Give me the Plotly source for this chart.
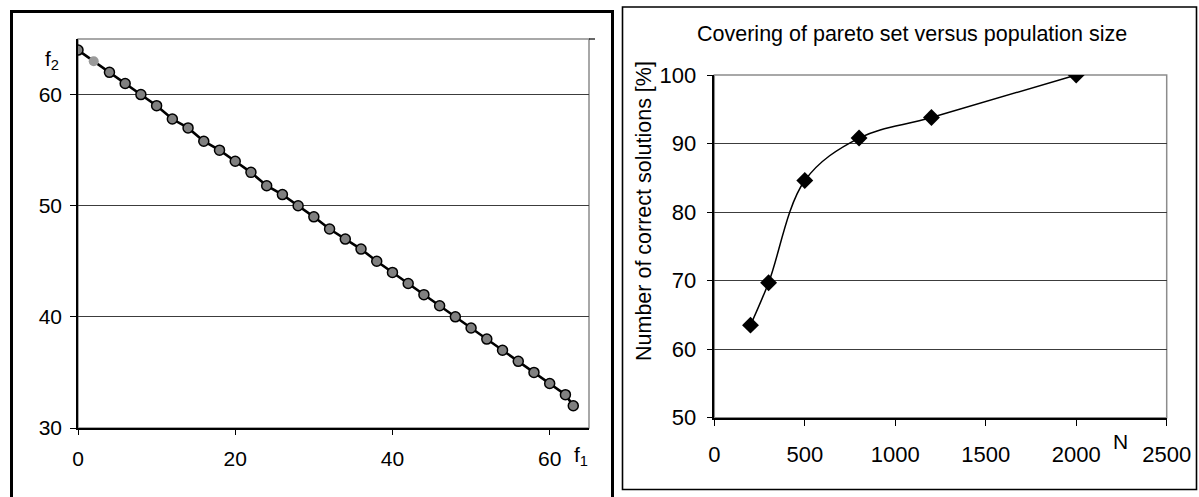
import plotly.graph_objects as go

W, H = 1199, 497

# ---- Left chart data (Pareto front) ----
f1 = [0, 2, 4, 6, 8, 10, 12, 14, 16, 18, 20, 22, 24, 26, 28, 30, 32, 34, 36, 38,
      40, 42, 44, 46, 48, 50, 52, 54, 56, 58, 60, 62, 63]
f2 = [64, 63, 62, 61, 60, 59, 57.8, 57, 55.8, 55, 54, 53, 51.8, 51, 50, 49, 47.9, 47,
      46.1, 45, 44, 43, 42, 41, 40, 39, 38, 37, 36, 35, 34, 33, 32]
highlight_idx = [1]
left_xticks = [0, 20, 40, 60]
left_yticks = [30, 40, 50, 60]

# ---- Right chart data ----
pop_size = [200, 300, 500, 800, 1200, 2000]
covering = [63.5, 69.7, 84.6, 90.8, 93.8, 100]
right_xticks = [0, 500, 1000, 1500, 2000, 2500]
right_yticks = [50, 60, 70, 80, 90, 100]

FONT = "Liberation Sans, Arial, sans-serif"


def px(x):
    return x / W


def py(y):
    return 1 - y / H


# plot-area pixel boxes
L = dict(x0=78, x1=589, y0=39, y1=428)
R = dict(x0=714.3, x1=1166.7, y0=75, y1=417.7)

marker_colors = ["#9a9a9a" if i in highlight_idx else "#808080" for i in range(len(f1))]
marker_lw = [0 if i in highlight_idx else 1.5 for i in range(len(f1))]

fig = go.Figure()
fig.add_trace(go.Scatter(
    x=f1, y=f2, mode="lines+markers", xaxis="x", yaxis="y",
    line=dict(color="black", width=2.6),
    marker=dict(symbol="circle", size=10, color=marker_colors,
                line=dict(color="black", width=marker_lw)),
    showlegend=False, hoverinfo="x+y"))

fig.add_trace(go.Scatter(
    x=pop_size, y=covering, mode="lines+markers", xaxis="x2", yaxis="y2",
    line=dict(color="black", width=1.5, shape="spline", smoothing=1.0),
    marker=dict(symbol="diamond", size=13, color="black"),
    showlegend=False, hoverinfo="x+y"))

axis_common = dict(showline=True, linecolor="black", linewidth=1.5,
                   ticks="outside", tickcolor="black", tickwidth=1.2,
                   zeroline=False, fixedrange=True, automargin=False)

fig.update_layout(
    template="none",
    width=W, height=H, autosize=False,
    margin=dict(l=0, r=0, t=0, b=0, pad=0),
    paper_bgcolor="white", plot_bgcolor="white",
    font=dict(family=FONT, color="black"),
    xaxis=dict(domain=[px(L["x0"]), px(L["x1"])], range=[0, 65],
               tickvals=left_xticks, ticklen=5, showgrid=False,
               tickfont=dict(size=21), ticklabelstandoff=6,
               anchor="y", **axis_common),
    yaxis=dict(domain=[py(L["y1"]), py(L["y0"])], range=[30, 65],
               tickvals=left_yticks, ticklen=6, showgrid=True,
               gridcolor="#3c3c3c", gridwidth=1,
               tickfont=dict(size=21), ticklabelstandoff=4,
               anchor="x", **axis_common),
    xaxis2=dict(domain=[px(R["x0"]), px(R["x1"])], range=[0, 2500],
                tickvals=right_xticks, ticklen=7, showgrid=False,
                tickfont=dict(size=22), ticklabelstandoff=9,
                anchor="y2", **axis_common),
    yaxis2=dict(domain=[py(R["y1"]), py(R["y0"])], range=[50, 100],
                tickvals=right_yticks, ticklen=6, showgrid=True,
                gridcolor="#3c3c3c", gridwidth=1,
                tickfont=dict(size=22), ticklabelstandoff=6,
                anchor="x2", **axis_common),
)

shapes = []
# gray plot-area frames
for box in (L, R):
    shapes.append(dict(type="rect", xref="paper", yref="paper",
                       x0=px(box["x0"]), x1=px(box["x1"]),
                       y0=py(box["y1"]), y1=py(box["y0"]),
                       line=dict(color="#8c8c8c", width=1.5), layer="below"))
# small black tick at the top-right of left plot
shapes.append(dict(type="line", xref="paper", yref="paper",
                   x0=px(589), x1=px(595), y0=py(39), y1=py(39),
                   line=dict(color="black", width=1.2)))
# left panel outer frame (open at bottom)
shapes.append(dict(type="path", xref="paper", yref="paper",
                   path=f"M {px(11.5)} {py(520)} L {px(11.5)} {py(11.5)} L {px(612.5)} {py(11.5)} L {px(612.5)} {py(520)}",
                   line=dict(color="black", width=3)))
# right panel outer frame
shapes.append(dict(type="rect", xref="paper", yref="paper",
                   x0=px(622.5), x1=px(1196.5), y0=py(489.5), y1=py(7),
                   line=dict(color="black", width=1.6)))
fig.update_layout(shapes=shapes)

annotations = [
    dict(text="f<sub>2</sub>", x=px(52), y=py(60), xref="paper", yref="paper",
         showarrow=False, font=dict(size=21), xanchor="center", yanchor="middle"),
    dict(text="f<sub>1</sub>", x=px(581), y=py(456), xref="paper", yref="paper",
         showarrow=False, font=dict(size=21), xanchor="center", yanchor="middle"),
    dict(text="Covering of pareto set versus population size", x=px(912), y=py(34),
         xref="paper", yref="paper", showarrow=False, font=dict(size=21.5),
         xanchor="center", yanchor="middle"),
    dict(text="Number of correct solutions [%]", x=px(644), y=py(211),
         xref="paper", yref="paper", showarrow=False, font=dict(size=21.5),
         textangle=-90, xanchor="center", yanchor="middle"),
    dict(text="N", x=px(1120), y=py(441), xref="paper", yref="paper",
         showarrow=False, font=dict(size=21), xanchor="center", yanchor="middle"),
]
fig.update_layout(annotations=annotations)

fig.write_html("out.html")
